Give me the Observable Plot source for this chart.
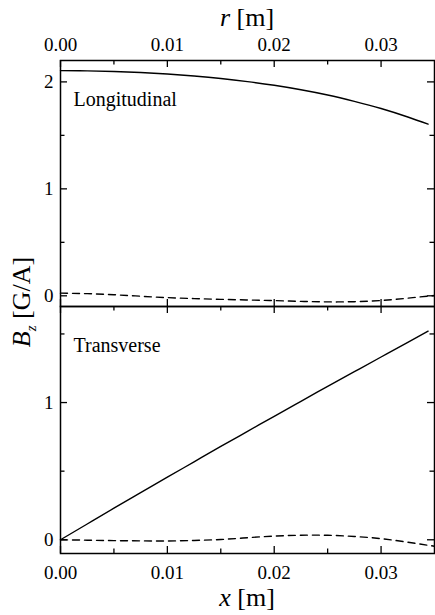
<!DOCTYPE html>
<html><head><meta charset="utf-8">
<script src="https://cdn.jsdelivr.net/npm/d3@7"></script>
<script src="https://cdn.jsdelivr.net/npm/@observablehq/plot@0.6"></script>
<style>
body{margin:0;background:#fff;}
#wrap{position:relative;width:435px;height:615px;font-family:"Liberation Serif","Times New Roman","DejaVu Serif",serif;color:#000;}
#wrap > svg{position:absolute;left:0;}
#wrap svg, #wrap svg text, #wrap svg tspan, #wrap svg g{font-family:"Liberation Serif","Times New Roman","DejaVu Serif",serif !important;}
</style></head><body>
<div id="wrap"></div>
<script>
// ---- data ----
const xSolid = [0,0.0025,0.005,0.0075,0.01,0.0125,0.015,0.0175,0.02,0.0225,0.025,0.0275,0.03,0.0325,0.0344];
const xDash  = [0,0.0025,0.005,0.0075,0.01,0.0125,0.015,0.0175,0.02,0.0225,0.025,0.0275,0.03,0.0325,0.035];
const longSolid  = [2.105,2.103,2.097,2.088,2.074,2.055,2.032,2.003,1.968,1.926,1.877,1.818,1.751,1.672,1.605];
const longDashed = [0.025,0.02,0.01,-0.004,-0.017,-0.026,-0.033,-0.039,-0.045,-0.052,-0.057,-0.055,-0.044,-0.022,0.003];
const transSolid  = [0,0.115,0.23,0.343,0.456,0.568,0.68,0.79,0.9,1.009,1.118,1.225,1.332,1.438,1.52];
const transDashed = [0,-0.003,-0.006,-0.008,-0.009,-0.005,0.002,0.015,0.027,0.033,0.033,0.024,0.008,-0.018,-0.047];
const xMajor = [0,0.01,0.02,0.03];
const xMinor = [0.005,0.015,0.025];
const yMajorTop = [0,1,2], yMinorTop = [0.5,1.5];
const yMajorBot = [0,1],   yMinorBot = [0.5,1.5];
const panelTitles = ["Longitudinal","Transverse"];

const W = 435, ML = 60, MR = 1;
const innerW = W - ML - MR;
const font = '"Liberation Serif", "Times New Roman", "DejaVu Serif", serif';
const toRows = (xs, ys) => xs.map((x, i) => ({x, y: ys[i]}));
const style = {fontFamily: font, fontSize: "19px", background: "transparent", overflow: "visible", color: "black"};
const lineOpts = {x: "x", y: "y", stroke: "black", strokeWidth: 1.4, curve: "natural"};
const dashOpts = {...lineOpts, strokeDasharray: "7,5"};
const fmtX = d3.format(".2f");
const fmtY = d3.format("d");

// top panel: plot area y 60..306
const topH = 310, topMT = 60, topMB = 4, topInner = topH - topMT - topMB;
const topPlot = Plot.plot({
  width: W, height: topH, marginLeft: ML, marginRight: MR, marginTop: topMT, marginBottom: topMB,
  style,
  x: {domain: [0, 0.035]},
  y: {domain: [-0.1, 2.2]},
  marks: [
    Plot.frame({stroke: "black", strokeWidth: 1.5}),
    Plot.tickX(xMajor, {x: d => d, insetBottom: topInner - 7, strokeWidth: 1.3}),
    Plot.tickX(xMinor, {x: d => d, insetBottom: topInner - 4.5, strokeWidth: 1.3}),
    Plot.tickX(xMajor, {x: d => d, insetTop: topInner - 7, strokeWidth: 1.3}),
    Plot.tickY(yMajorTop, {y: d => d, insetRight: innerW - 7, strokeWidth: 1.3}),
    Plot.tickY(yMinorTop, {y: d => d, insetRight: innerW - 4.5, strokeWidth: 1.3}),
    Plot.tickY(yMajorTop, {y: d => d, insetLeft: innerW - 7, strokeWidth: 1.3}),
    Plot.tickY(yMinorTop, {y: d => d, insetLeft: innerW - 4.5, strokeWidth: 1.3}),
    Plot.axisX(xMajor, {anchor: "top", tickSize: 0, tickPadding: 10, tickFormat: fmtX, fontSize: 19, fontFamily: font, label: null}),
    Plot.axisY(yMajorTop, {anchor: "left", tickSize: 0, tickPadding: 7, tickFormat: fmtY, fontSize: 19, fontFamily: font, label: null}),
    Plot.line(toRows(xSolid, longSolid), lineOpts),
    Plot.line(toRows(xDash, longDashed), dashOpts),
    Plot.text([panelTitles[0]], {frameAnchor: "top-left", textAnchor: "start", dx: 13, dy: 31.5, fontSize: 20, fontFamily: font})
  ]
});

// bottom panel: plot area y 306..553
const botTop = 300, botH = 315, botMT = 6, botMB = 62, botInner = botH - botMT - botMB;
const botPlot = Plot.plot({
  width: W, height: botH, marginLeft: ML, marginRight: MR, marginTop: botMT, marginBottom: botMB,
  style,
  x: {domain: [0, 0.035]},
  y: {domain: [-0.1, 1.7]},
  marks: [
    Plot.frame({stroke: "black", strokeWidth: 1.5}),
    Plot.tickX(xMajor, {x: d => d, insetBottom: botInner - 7, strokeWidth: 1.3}),
    Plot.tickX(xMinor, {x: d => d, insetBottom: botInner - 4.5, strokeWidth: 1.3}),
    Plot.tickX(xMajor, {x: d => d, insetTop: botInner - 7, strokeWidth: 1.3}),
    Plot.tickX(xMinor, {x: d => d, insetTop: botInner - 4.5, strokeWidth: 1.3}),
    Plot.tickY(yMajorBot, {y: d => d, insetRight: innerW - 7, strokeWidth: 1.3}),
    Plot.tickY(yMinorBot, {y: d => d, insetRight: innerW - 4.5, strokeWidth: 1.3}),
    Plot.tickY(yMajorBot, {y: d => d, insetLeft: innerW - 7, strokeWidth: 1.3}),
    Plot.tickY(yMinorBot, {y: d => d, insetLeft: innerW - 4.5, strokeWidth: 1.3}),
    Plot.axisX(xMajor, {anchor: "bottom", tickSize: 0, tickPadding: 12, tickFormat: fmtX, fontSize: 19, fontFamily: font, label: null}),
    Plot.axisY(yMajorBot, {anchor: "left", tickSize: 0, tickPadding: 7, tickFormat: fmtY, fontSize: 19, fontFamily: font, label: null}),
    Plot.line(toRows(xSolid, transSolid), lineOpts),
    Plot.line(toRows(xDash, transDashed), dashOpts),
    Plot.text([panelTitles[1]], {frameAnchor: "top-left", textAnchor: "start", dx: 13, dy: 31.5, fontSize: 20, fontFamily: font})
  ]
});

const wrap = document.getElementById("wrap");
topPlot.style.top = "0px";
botPlot.style.top = botTop + "px";
topPlot.style.position = "absolute";
botPlot.style.position = "absolute";
wrap.appendChild(topPlot);
wrap.appendChild(botPlot);

// axis titles overlay
const ov = d3.select(wrap).append("svg")
  .attr("width", W).attr("height", 615)
  .style("position", "absolute").style("top", "0px").style("left", "0px")
  .style("overflow", "visible").style("pointer-events", "none")
  .attr("font-family", font).attr("font-size", 26).attr("fill", "black");
const cx = ML + innerW / 2;
const t1 = ov.append("text").attr("x", cx).attr("y", 26).attr("text-anchor", "middle");
t1.append("tspan").attr("font-style", "italic").text("r");
t1.append("tspan").text(" [m]");
const t2 = ov.append("text").attr("x", cx).attr("y", 606).attr("text-anchor", "middle");
t2.append("tspan").attr("font-style", "italic").text("x");
t2.append("tspan").text(" [m]");
const t3 = ov.append("text").attr("transform", "translate(30,302) rotate(-90)").attr("text-anchor", "middle");
t3.append("tspan").attr("font-style", "italic").text("B");
t3.append("tspan").attr("font-style", "italic").attr("font-size", 15).attr("dy", 6).text("z");
t3.append("tspan").attr("dy", -6).text(" [G/A]");
</script>
</body></html>
